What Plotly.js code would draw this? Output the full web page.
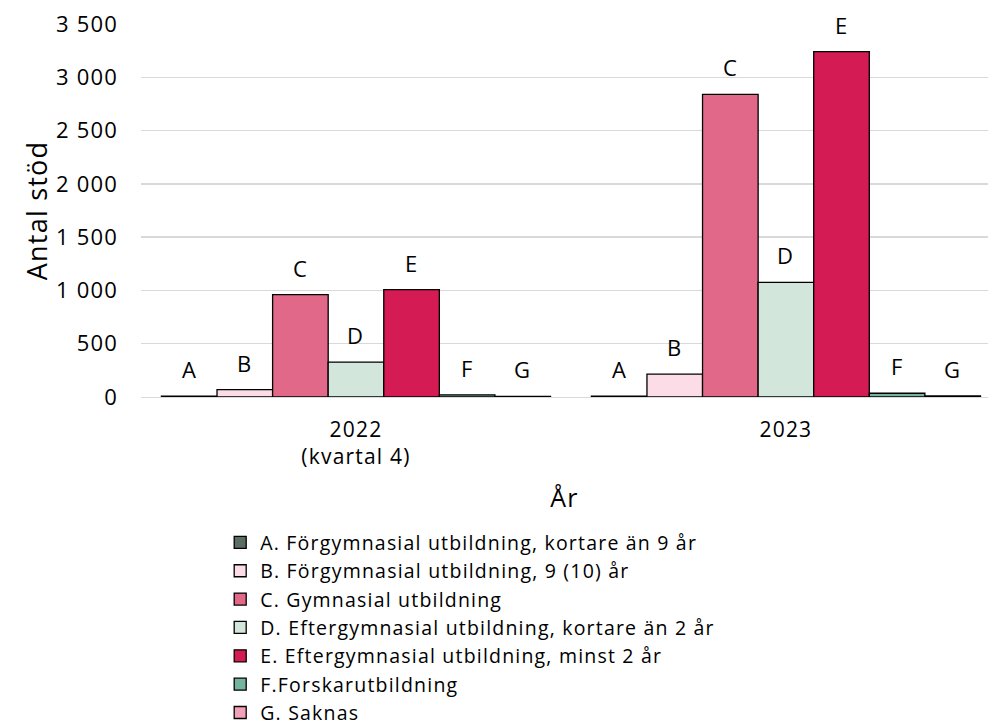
<!DOCTYPE html>
<html>
<head>
<meta charset="utf-8">
<script src="https://cdn.plot.ly/plotly-3.0.1.min.js"></script>
<style>html,body{margin:0;padding:0;background:#fff;}#chart{width:988px;height:725px;}svg text{letter-spacing:1.2px;}</style>
</head>
<body>
<div id="chart"></div>
<script>
// ---- data ----
const categories = ["2022<br>(kvartal 4)", "2023"];
const seriesNames = [
  "A. Förgymnasial utbildning, kortare än 9 år",
  "B. Förgymnasial utbildning, 9 (10) år",
  "C. Gymnasial utbildning",
  "D. Eftergymnasial utbildning, kortare än 2 år",
  "E. Eftergymnasial utbildning, minst 2 år",
  "F.Forskarutbildning",
  "G. Saknas"
];
const seriesLetters = ["A", "B", "C", "D", "E", "F", "G"];
const valuesA = [8, 8];
const valuesB = [70, 215];
const valuesC = [960, 2840];
const valuesD = [328, 1075];
const valuesE = [1008, 3240];
const valuesF = [20, 35];
const valuesG = [6, 10];
const seriesValues = [valuesA, valuesB, valuesC, valuesD, valuesE, valuesF, valuesG];
const colors = ["#5B6E64", "#FCDCE6", "#E2688A", "#D3E6DB", "#D51B53", "#74B39C", "#F2A2B8"];

const FONT = "Open Sans, Noto Sans, sans-serif";
const bargap = 0.095;

const traces = seriesValues.map((vals, i) => ({
  type: "bar",
  name: seriesNames[i],
  x: categories,
  y: vals,
  marker: {color: colors[i], line: {color: "#000000", width: 1.3}},
  hoverinfo: "x+y+name"
}));

// labels above bars
const nS = seriesValues.length;
const slot = (1 - bargap) / nS;
const annotations = [];
seriesValues.forEach((vals, i) => {
  vals.forEach((v, j) => {
    annotations.push({
      x: j - (1 - bargap) / 2 + (i + 0.5) * slot,
      y: v,
      xref: "x", yref: "y",
      text: seriesLetters[i],
      showarrow: false,
      yanchor: "bottom",
      yshift: 10,
      font: {family: FONT, size: 22, color: "#000"}
    });
  });
});

const layout = {
  width: 988, height: 725,
  margin: {l: 141, r: 0, t: 24, b: 328, autoexpand: false},
  paper_bgcolor: "#fff", plot_bgcolor: "#fff",
  separators: ", ",
  font: {family: FONT, color: "#000"},
  barmode: "group",
  bargap: bargap,
  bargroupgap: 0,
  xaxis: {
    type: "category",
    range: [-0.5, 1.47],
    showgrid: false,
    showline: true, linecolor: "#d9d9d9", linewidth: 1.3,
    ticks: "",
    tickfont: {family: FONT, size: 21, color: "#000"},
    ticklabelstandoff: 13,
    title: {text: "År", font: {family: FONT, size: 25, color: "#000"}, standoff: 20}
  },
  yaxis: {
    range: [0, 3500],
    dtick: 500,
    tickformat: ",d",
    showgrid: true, gridcolor: "#d9d9d9", gridwidth: 1.3,
    zeroline: false,
    showline: false,
    ticks: "",
    tickfont: {family: FONT, size: 22, color: "#000"},
    ticklabelstandoff: 22,
    title: {text: "Antal stöd", font: {family: FONT, size: 27, color: "#000"}, standoff: 0}
  },
  showlegend: true,
  legend: {
    orientation: "v",
    x: 0.0935, xanchor: "left",
    y: -0.3384, yanchor: "top",
    font: {family: FONT, size: 19.5, color: "#000"},
    traceorder: "normal",
    bgcolor: "rgba(0,0,0,0)"
  },
  annotations: annotations
};

Plotly.newPlot("chart", traces, layout, {displayModeBar: false, staticPlot: true});
</script>
</body>
</html>
